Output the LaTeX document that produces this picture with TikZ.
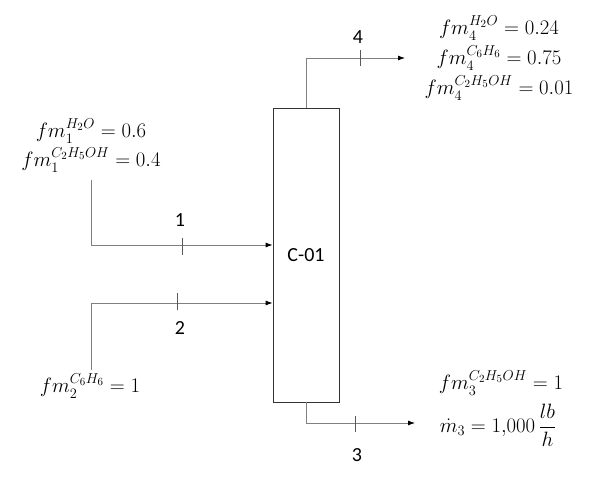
\documentclass[tikz,border=0pt]{standalone}
\usepackage{amsmath}
\usepackage{fontspec}
\setmainfont{Carlito}
\usetikzlibrary{arrows.meta}

\tikzset{
  stream/.style={draw=gray, line width=0.8pt, -{Latex[length=7pt,width=5pt,fill=black,color=black]}},
  tick/.style={draw=gray!70!black, line width=0.7pt},
  eqn/.style={font=\fontsize{21.5}{24}\selectfont, inner sep=0pt},
  lbl/.style={font=\fontsize{20}{24}\selectfont}
}

\begin{document}
\begin{tikzpicture}[x=1pt, y=-1pt]
\useasboundingbox (0,0) rectangle (595,478);

% column
\node[draw=black!80, line width=0.8pt, minimum width=66pt, minimum height=294pt,
  inner sep=0pt, lbl] (col) at (306,255) {C-01};

% feed streams
\coordinate (s1) at (91,180);
\coordinate (s2) at (91,370);
\draw[stream] (s1) |- ([yshift=10pt]col.west);
\draw[stream] (s2) |- ([yshift=-48pt]col.west);

% products
\coordinate (p4) at (405,58);
\coordinate (p3) at (415,423);
\draw[stream] (col.north) |- (p4);
\draw[stream] (col.south) |- (p3);

% stream ticks
\draw[tick] (182,238) -- (182,255);
\draw[tick] (177,293) -- (177,310);
\draw[tick] (360,50) -- (360,66);
\draw[tick] (355,416) -- (355,432);

% stream numbers
\node[lbl] (n1) at (180,220) {1};
\node[lbl] (n2) at (180,328) {2};
\node[lbl] (n3) at (357,455) {3};
\node[lbl] (n4) at (358,37) {4};

% compositions
\node[eqn] (f1a) at (91,131) {$fm_1^{H_2O}=0.6$};
\node[eqn] (f1b) at (91,160) {$fm_1^{C_2H_5OH}=0.4$};
\node[eqn] (f2) at (90,386) {$fm_2^{C_6H_6}=1$};
\node[eqn] (f4a) at (499,28) {$fm_4^{H_2O}=0.24$};
\node[eqn] (f4b) at (499,58) {$fm_4^{C_6H_6}=0.75$};
\node[eqn] (f4c) at (499,88) {$fm_4^{C_2H_5OH}=0.01$};
\node[eqn] (f3a) at (501,383) {$fm_3^{C_2H_5OH}=1$};
\node[eqn] (f3b) at (498,425) {$\dot{m}_3=1{,}000\,\dfrac{lb}{h}$};
\end{tikzpicture}
\end{document}
